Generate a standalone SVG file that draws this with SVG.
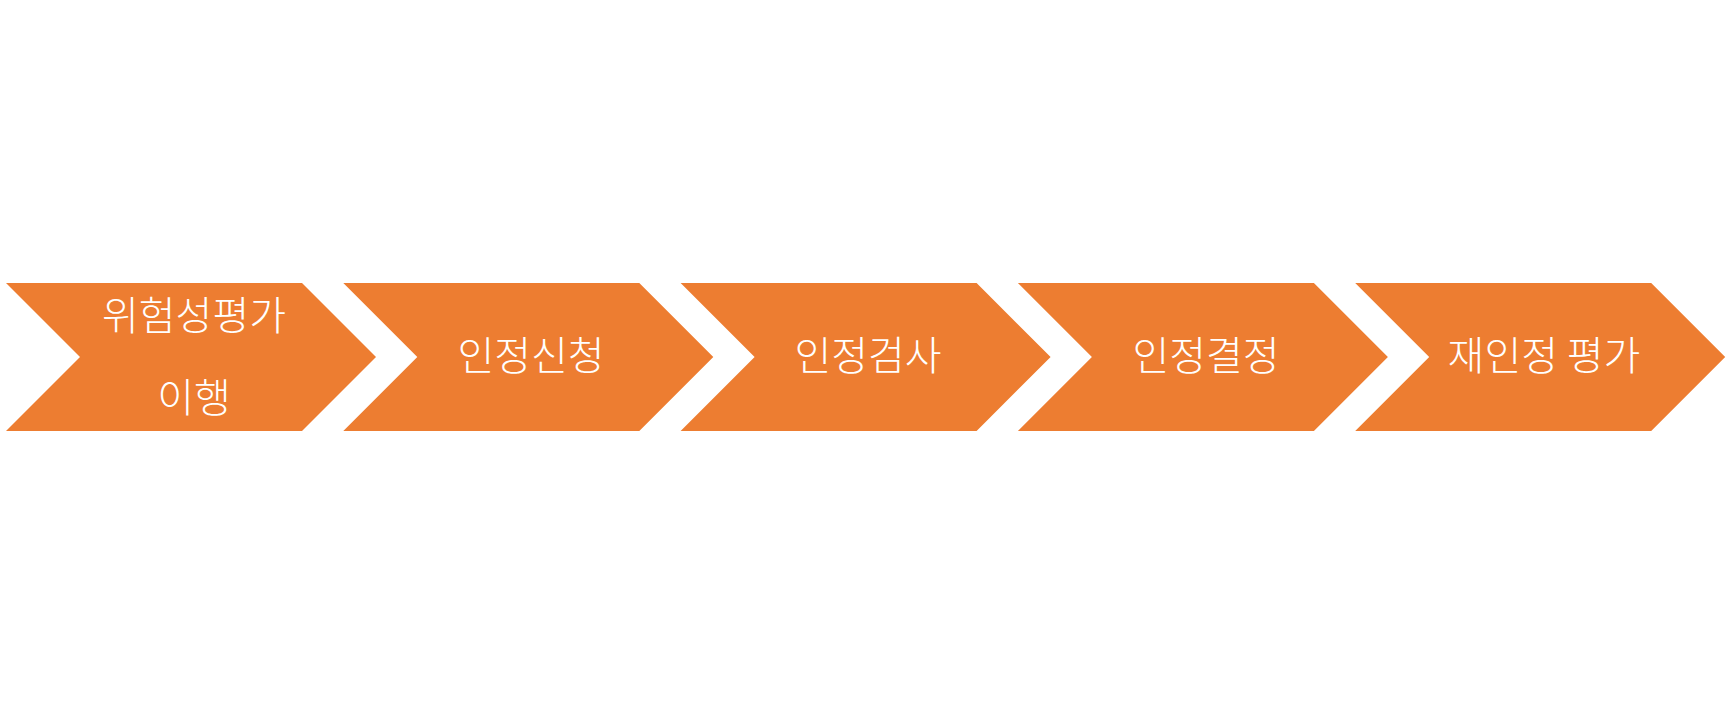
<svg xmlns="http://www.w3.org/2000/svg" width="1729" height="714" viewBox="0 0 1729 714">
<style>
.chev{fill:#ED7D31;}
.lbl{font-family:"Noto Sans CJK KR","Noto Sans",sans-serif;font-size:40px;font-weight:300;fill:#FFFFFF;text-anchor:middle;}
</style>
<defs>
<polygon id="shape" points="0,0 296,0 370,74 296,148 0,148 74,74"/>
</defs>
<rect width="1729" height="714" fill="#FFFFFF"/>
<g id="connectors"></g>
<g id="node1">
<use href="#shape" class="chev" x="6" y="283"/>
<text class="lbl" x="194" y="330">위험성평가</text>
<text class="lbl" x="194" y="412">이행</text>
</g>
<g id="node2">
<use href="#shape" class="chev" x="343.3" y="283"/>
<text class="lbl" x="531" y="370">인정신청</text>
</g>
<g id="node3">
<use href="#shape" class="chev" x="680.6" y="283"/>
<text class="lbl" x="868" y="370">인정검사</text>
</g>
<g id="node4">
<use href="#shape" class="chev" x="1017.9" y="283"/>
<text class="lbl" x="1206" y="370">인정결정</text>
</g>
<g id="node5">
<use href="#shape" class="chev" x="1355.2" y="283"/>
<text class="lbl" x="1544" y="370">재인정 평가</text>
</g>
</svg>
